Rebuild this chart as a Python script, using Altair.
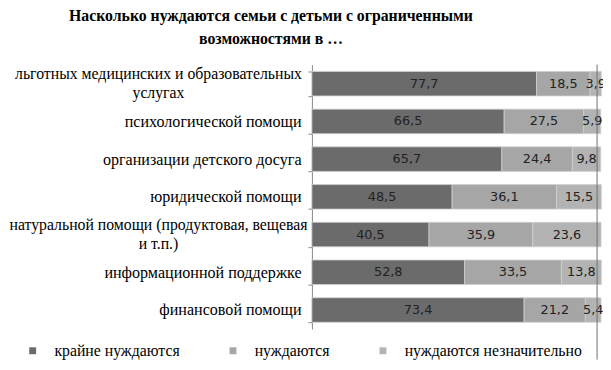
import altair as alt
import pandas as pd

title_lines = ["Насколько нуждаются семьи с детьми с ограниченными", "возможностями в …"]
categories = [
    "льготных медицинских и образовательных\nуслугах",
    "психологической помощи",
    "организации детского досуга",
    "юридической помощи",
    "натуральной помощи (продуктовая, вещевая\nи т.п.)",
    "информационной поддержке",
    "финансовой помощи",
]
series = ["крайне нуждаются", "нуждаются", "нуждаются незначительно"]
extremely = [77.7, 66.5, 65.7, 48.5, 40.5, 52.8, 73.4]
need = [18.5, 27.5, 24.4, 36.1, 35.9, 33.5, 21.2]
slightly = [3.9, 5.9, 9.8, 15.5, 23.6, 13.8, 5.4]
colors = ["#6b6b6b", "#a6a6a6", "#b3b3b3"]

rows = []
for i, c in enumerate(categories):
    for j, (s, vals) in enumerate(zip(series, [extremely, need, slightly])):
        rows.append({"cat": c, "series": s, "order": j, "v": vals[i]})
df = pd.DataFrame(rows)

base = alt.Chart(df).transform_stack(
    stack="v", groupby=["cat"], as_=["x0", "x1"], sort=[alt.SortField("order")]
).transform_calculate(
    mid="(datum.x0 + datum.x1) / 2",
    lbl="replace(format(datum.v, '.1f'), '.', ',')",
)

xscale = alt.Scale(domain=[0, 100], nice=False, zero=True)
yscale = alt.Scale(paddingInner=0.35, paddingOuter=0.18)

ysingle = alt.Y(
    "cat:N", sort=categories, title=None, scale=yscale,
    axis=alt.Axis(
        orient="left", tickBand="extent", tickSize=4, tickColor="#888888",
        domainColor="#888888", labelPadding=7, labelAlign="right",
        labelFont="Liberation Serif", labelFontSize=16.3, labelColor="#000000",
        labelLimit=400,
        labelExpr="indexof(datum.label, '\\n') >= 0 ? '' : datum.label",
    ),
)
ymulti = alt.Y(
    "cat:N", sort=categories, title=None, scale=yscale,
    axis=alt.Axis(
        orient="left", ticks=False, domain=False, tickSize=0, labelPadding=156,
        labelAlign="center", labelFont="Liberation Serif", labelFontSize=16,
        labelColor="#000000", labelLimit=400, labelLineHeight=20, labelOffset=-10,
        labelExpr="indexof(datum.label, '\\n') >= 0 ? split(datum.label, '\\n') : ''",
    ),
)

bars = base.mark_bar(stroke="#cfcfcf", strokeWidth=0.8).encode(
    x=alt.X("x0:Q", scale=xscale, axis=None),
    x2="x1:Q",
    y=ysingle,
    color=alt.Color(
        "series:N", sort=series, scale=alt.Scale(domain=series, range=colors),
        legend=alt.Legend(
            title=None, orient="none", direction="horizontal", columns=3,
            legendX=-291, legendY=282, symbolType="square", symbolSize=49,
            symbolStrokeWidth=0, labelFont="Liberation Serif", labelFontSize=16,
            labelColor="#000000", labelOffset=14, columnPadding=45, labelLimit=300,
        ),
    ),
)

texts = base.mark_text(font="DejaVu Sans", fontSize=13, color="#222222").encode(
    x=alt.X("mid:Q", scale=xscale, axis=None),
    y=ymulti,
    text="lbl:N",
)

# page frame line at the right edge of the original picture
frame = alt.Chart(alt.Data(values=[{}])).mark_rule(color="#707070", strokeWidth=1).encode(
    x=alt.value(289), y=alt.value(0), y2=alt.value(299)
)

chart = alt.layer(bars, texts, frame).resolve_axis(y="independent").properties(
    width=293, height=268,
    autosize=alt.AutoSizeParams(type="none"),
    padding={"left": 308, "top": 55, "right": 2, "bottom": 31},
    title=alt.TitleParams(
        text=title_lines, font="Liberation Serif", fontSize=16, fontWeight="bold",
        color="#000000", anchor="middle", frame="group", dx=-188, lineHeight=23,
        offset=10,
    ),
).configure_view(stroke=None)

chart.save("out.html", embed_options={"renderer": "svg", "actions": False})
